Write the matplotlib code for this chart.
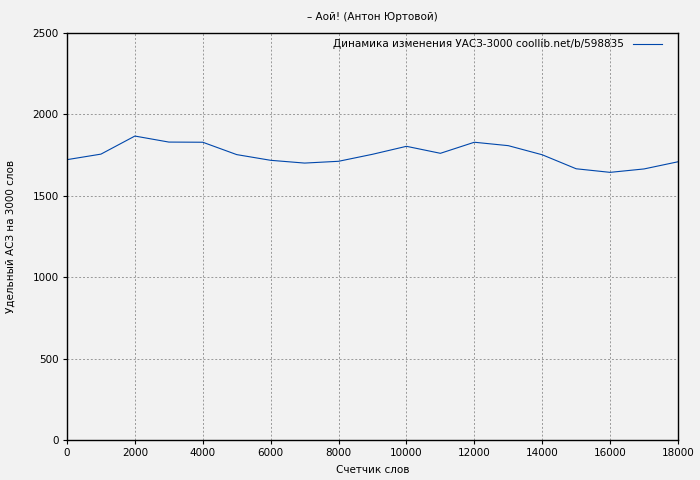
import matplotlib
matplotlib.use("Agg")
import matplotlib.pyplot as plt

words = [0, 1000, 2000, 3000, 4000, 5000, 6000, 7000, 8000, 9000,
         10000, 11000, 12000, 13000, 14000, 15000, 16000, 17000, 18000]
uasz = [1722, 1756, 1867, 1830, 1829, 1753, 1718, 1701, 1712, 1755,
        1804, 1761, 1829, 1808, 1752, 1666, 1644, 1665, 1709]

x_ticks = [0, 2000, 4000, 6000, 8000, 10000, 12000, 14000, 16000, 18000]
y_ticks = [0, 500, 1000, 1500, 2000, 2500]

plt.rcParams["font.family"] = ["DejaVu Sans"]
plt.rcParams["font.size"] = 7.5

fig = plt.figure(figsize=(7, 4.8), dpi=100, facecolor="#f2f2f2")
ax = fig.add_axes([67 / 700, 40 / 480, 611 / 700, 407 / 480])
ax.set_facecolor("#f2f2f2")

ax.plot(words, uasz, color="#0047ab", linewidth=0.8,
        label="Динамика изменения УАСЗ-3000 coollib.net/b/598835")

ax.set_xlim(0, 18000)
ax.set_ylim(0, 2500)
ax.set_xticks(x_ticks)
ax.set_yticks(y_ticks)
ax.tick_params(direction="out", length=3, width=0.8, pad=3)
ax.grid(True, color="#999999", linestyle=(0, (2, 2)), linewidth=0.7)

for s in ax.spines.values():
    s.set_color("black")
    s.set_linewidth(1.0)

ax.set_xlabel("Счетчик слов", labelpad=5)
ax.set_ylabel("Удельный АСЗ на 3000 слов", labelpad=12)
ax.set_title("– Аой! (Антон Юртовой)", fontsize=7.5, pad=9)

ax.legend(loc="upper right", frameon=False, markerfirst=False,
          handlelength=2.8, borderaxespad=0.2, fontsize=7.5,
          bbox_to_anchor=(1 - 10 / 611, 1))

fig.savefig("out.png", dpi=100, facecolor="#f2f2f2")
